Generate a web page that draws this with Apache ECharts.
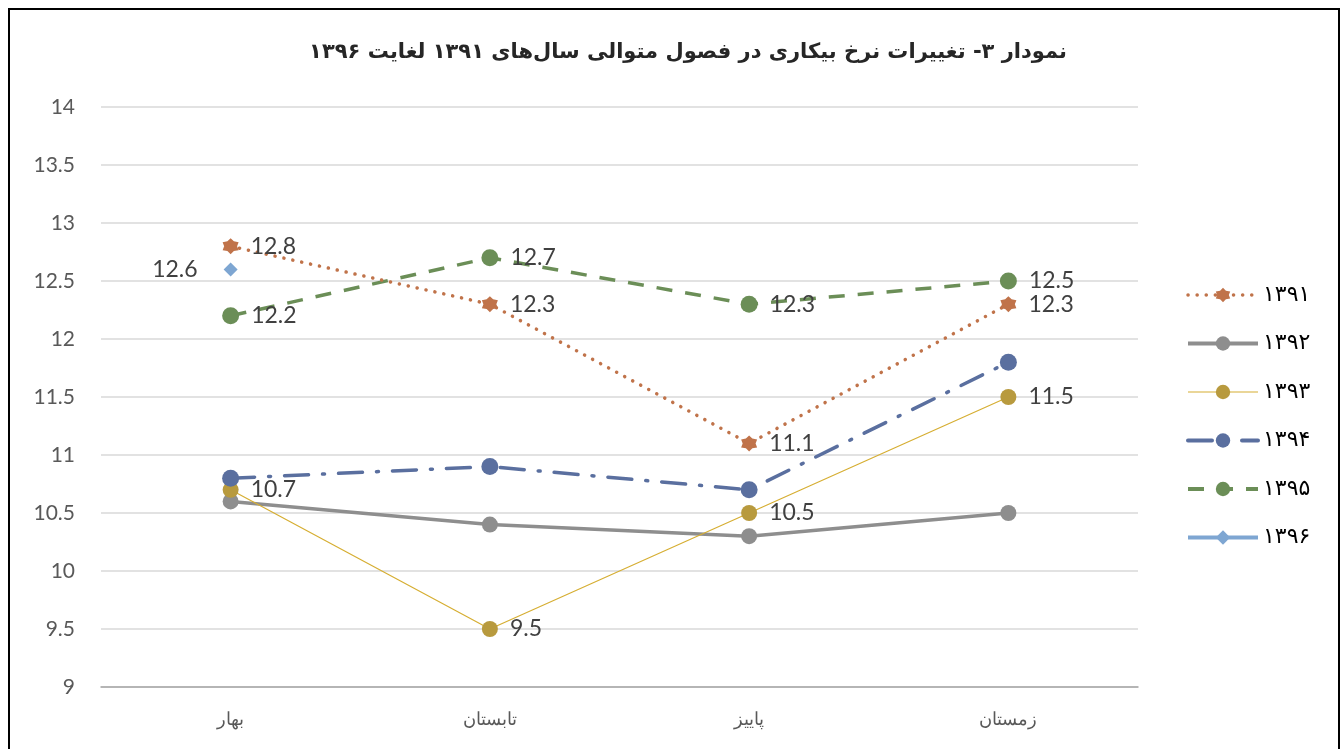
<!DOCTYPE html>
<html>
<head>
<meta charset="utf-8">
<script src="https://cdn.jsdelivr.net/npm/echarts@6/dist/echarts.min.js"></script>
<style>
html,body{margin:0;padding:0;background:#fff;}
#chart{width:1343px;height:749px;}
</style>
</head>
<body>
<div id="chart"></div>
<script>
// 数据
var seasons = ['بهار', 'تابستان', 'پاییز', 'زمستان'];
var years = ['۱۳۹۱', '۱۳۹۲', '۱۳۹۳', '۱۳۹۴', '۱۳۹۵', '۱۳۹۶'];
var y1391 = [12.8, 12.3, 11.1, 12.3];
var y1392 = [10.6, 10.4, 10.3, 10.5];
var y1393 = [10.7, 9.5, 10.5, 11.5];
var y1394 = [10.8, 10.9, 10.7, 11.8];
var y1395 = [12.2, 12.7, 12.3, 12.5];
var y1396 = [12.6, '-', '-', '-'];

var starPath = 'path://M0,-10 L3.5,-6.06 L8.66,-5 L7,0 L8.66,5 L3.5,6.06 L0,10 L-3.5,6.06 L-8.66,5 L-7,0 L-8.66,-5 L-3.5,-6.06 Z';

var labelRight = {
	show: true,
	position: 'right',
	distance: 12,
	color: '#404040',
	fontSize: 23,
	fontFamily: 'Lato'
};

// 图例线宽
var legendWidths = [3.5, 4, 1.2, 4, 4, 4];
var legendData = years.map(function(y, i) {
	return { name: y, lineStyle: { width: legendWidths[i] } };
});

var chart = echarts.init(document.getElementById('chart'));
var option = {
	animation: false,
	backgroundColor: '#fff',
	title: {
		text: 'نمودار ۳- تغییرات نرخ بیکاری در فصول متوالی سال‌های ۱۳۹۱ لغایت ۱۳۹۶',
		left: 683,
		textAlign: 'center',
		top: 37,
		textStyle: {
			fontFamily: 'DejaVu Sans',
			fontWeight: 'bold',
			fontSize: 21,
			color: '#262626'
		}
	},
	graphic: [{
		type: 'rect',
		shape: { x: 9, y: 9, width: 1330, height: 760 },
		style: { fill: 'none', stroke: '#000', lineWidth: 2 },
		silent: true
	}],
	legend: {
		orient: 'vertical',
		left: 1181,
		top: 279,
		itemWidth: 70,
		itemHeight: 18,
		itemGap: 26.5,
		data: legendData,
		textStyle: {
			fontFamily: 'DejaVu Sans',
			fontSize: 22,
			lineHeight: 18,
			color: '#000'
		}
	},
	grid: {
		left: 101,
		right: 205,
		top: 107,
		bottom: 62
	},
	xAxis: {
		type: 'category',
		data: seasons,
		boundaryGap: true,
		axisLine: { lineStyle: { color: '#A6A6A6', width: 1.5 } },
		axisTick: { show: false },
		axisLabel: {
			color: '#595959',
			fontSize: 18,
			fontFamily: 'Liberation Sans',
			margin: 24
		}
	},
	yAxis: {
		type: 'value',
		min: 9,
		max: 14,
		interval: 0.5,
		axisLine: { show: false },
		axisTick: { show: false },
		axisLabel: {
			color: '#595959',
			fontSize: 21,
			fontFamily: 'Lato',
			margin: 26
		},
		splitLine: { lineStyle: { color: '#D9D9D9', width: 1.5 } }
	},
	series: [{
		name: years[0],
		type: 'line',
		data: y1391,
		symbol: starPath,
		symbolSize: 16,
		itemStyle: { color: '#C0734A' },
		lineStyle: { color: '#C0734A', width: 3.5, type: [0.1, 9], cap: 'round' },
		label: labelRight,
		z: 5
	}, {
		name: years[1],
		type: 'line',
		data: y1392,
		symbol: 'circle',
		symbolSize: 16,
		itemStyle: { color: '#8E8E8E' },
		lineStyle: { color: '#8E8E8E', width: 3.5 }
	}, {
		name: years[2],
		type: 'line',
		data: y1393,
		symbol: 'circle',
		symbolSize: 16,
		itemStyle: { color: '#B89A3E' },
		lineStyle: { color: '#D6AE32', width: 1.2 },
		label: labelRight
	}, {
		name: years[3],
		type: 'line',
		data: y1394,
		symbol: 'circle',
		symbolSize: 17,
		itemStyle: { color: '#5A6F9F' },
		lineStyle: { color: '#5A6F9F', width: 3.5, type: [24, 14, 2, 14], cap: 'round' }
	}, {
		name: years[4],
		type: 'line',
		data: y1395,
		symbol: 'circle',
		symbolSize: 17,
		itemStyle: { color: '#6B8E57' },
		lineStyle: { color: '#6B8E57', width: 3.5, type: [16, 13] },
		label: labelRight
	}, {
		name: years[5],
		type: 'line',
		data: y1396,
		symbol: 'diamond',
		symbolSize: 14,
		itemStyle: { color: '#7EA6D2' },
		lineStyle: { color: '#7EA6D2', width: 3.5 },
		label: {
			show: true,
			position: 'left',
			distance: 26,
			color: '#404040',
			fontSize: 23,
			fontFamily: 'Lato'
		}
	}]
};
chart.setOption(option);
</script>
</body>
</html>
